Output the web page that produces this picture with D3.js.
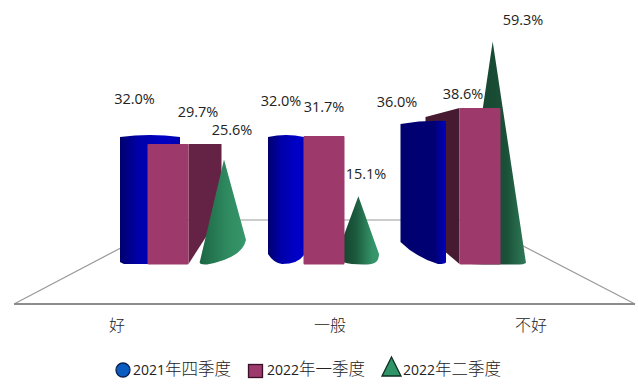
<!DOCTYPE html>
<html><head><meta charset="utf-8">
<script src="https://cdn.jsdelivr.net/npm/d3@7/dist/d3.min.js"></script>
<style>html,body{margin:0;background:#fff}svg{display:block}
text{font-family:"Open Sans","Noto Sans CJK SC",sans-serif;fill:#222}</style>
</head><body><svg id="c" width="638" height="392"></svg>
<script>
const categories = ["好","一般","不好"];
const seriesNames = ["2021年四季度","2022年一季度","2022年二季度"];
const values2021Q4 = [32.0,32.0,36.0];
const values2022Q1 = [29.7,31.7,38.6];
const values2022Q2 = [25.6,15.1,59.3];

const svg = d3.select("#c");
const defs = svg.append("defs");
const idx = d3.scaleOrdinal(categories,[0,1,2]);

// one vertical scale per row of the pseudo-3D scene
const yCyl  = d3.scaleLinear([0,40],[239,109]);
const yBar  = d3.scaleLinear([0,40],[264,102.4]);
const yCone = d3.scaleLinear([0,60],[249,39]);
const floorY = 264;

// scene layout
const xCyl  = d3.scaleOrdinal(categories,[120,268,400.5]);
const wCyl  = [60,36,45.5];
const footY = [262,254,242];
const footX = [124,282,438];
const xBar  = d3.scalePoint(categories,[147.5,459.5]);
const barW  = 41;
const depth = d3.scaleLinear([0,1,2],[33,0,-34]);
const depthDy = [0,0,9];
const xCone = d3.scalePoint(categories,[224,492.7]);
const coneL = [[200,261],[337,254],[460,262]];
const coneR = [[246,240],[379,254],[526,263]];
const coneB = [207,366,518];

function grad(id,stops){
  const g=defs.append("linearGradient").attr("id",id);
  stops.forEach(([o,c])=>g.append("stop").attr("offset",o).attr("stop-color",c));
}
grad("cyl0",[[0,"#00006e"],[.3,"#0000a8"],[.75,"#0000c4"],[1,"#0000b0"]]);
grad("cyl1",[[0,"#00006e"],[.35,"#0000a8"],[.8,"#0000c8"],[1,"#0000c0"]]);
grad("cyl2",[[0,"#000070"],[.75,"#000074"],[1,"#0000c0"]]);
grad("cone0",[[0,"#1c6644"],[.6,"#2f8a60"],[1,"#38976c"]]);
grad("cone1",[[0,"#123a28"],[.45,"#1c5a3e"],[.85,"#349468"],[1,"#38976c"]]);
grad("cone2",[[0,"#143f2b"],[.7,"#1b5038"],[1,"#2f7a58"]]);

// floor
const floor = svg.append("g").attr("fill","none").attr("stroke","#999");
floor.append("path").attr("stroke-width",1.2)
  .attr("d",d3.line()([[14,304],[174,220],[473,220],[635,304]]));
floor.append("path").attr("stroke","#8c8c8c").attr("stroke-width",2)
  .attr("d",d3.line()([[14,304],[635,304]]));

function drawCyl(g,c,v){
  const i=idx(c),x=xCyl(c),w=wCyl[i],t=yCyl(v),p=d3.path();
  p.moveTo(x,t+2);
  p.quadraticCurveTo(x+w/2,t-2,x+w,t+(i==2?-1:2));
  p.lineTo(x+w,i==1?floorY-9:floorY-2);
  p.quadraticCurveTo(x+w-(i==1?6:0),floorY,footX[i],floorY);
  p.quadraticCurveTo(x+(footX[i]-x)*.4,floorY-(i==2?7:1),x,footY[i]);
  p.closePath();
  g.append("path").attr("d",p.toString()).attr("fill",`url(#cyl${i})`);
}
function drawSide(g,c,v){
  const i=idx(c),x=xBar(c),t=yBar(v),d=depth(i);
  const e=d>=0?x+barW:x;
  if(d===0) return;
  const slope=d>0?-1.55:0.85;
  g.append("path").attr("fill",i==0?"#642344":"#461a31")
   .attr("d",d3.line()([[e,t],[e+d,t+depthDy[i]],[e+d,floorY+slope*d],[e,floorY]]));
}
function drawBar(g,c,v){
  const t=yBar(v);
  g.append("rect").attr("x",xBar(c)).attr("y",t).attr("width",barW).attr("rx",1)
   .attr("height",floorY+.5-t).attr("fill","#9e3a6b");
}
function drawCone(g,c,v){
  const i=idx(c),p=d3.path(),ax=xCone(c),ay=yCone(v),L=coneL[i],R=coneR[i];
  p.moveTo(ax,ay);p.lineTo(R[0],R[1]);
  p.quadraticCurveTo(R[0]+(i==1?0:-4),floorY-(i==0?6:-1),coneB[i],floorY+.5);
  p.quadraticCurveTo(L[0]-2,floorY+1,L[0],L[1]);
  p.closePath();
  g.append("path").attr("d",p.toString()).attr("fill",`url(#cone${i})`);
}
const zOrder=[
  ["cyl","side","bar","cone"],
  ["cone","cyl","bar"],
  ["cone","side","cyl","bar"]
];
categories.forEach((c,i)=>{
  const g=svg.append("g");
  zOrder[i].forEach(k=>{
    if(k==="cyl")drawCyl(g,c,values2021Q4[i]);
    if(k==="side")drawSide(g,c,values2022Q1[i]);
    if(k==="bar")drawBar(g,c,values2022Q1[i]);
    if(k==="cone")drawCone(g,c,values2022Q2[i]);
  });
});

// value labels: offset from each mark's top
const fmt=d=>d3.format(".1f")(d)+"%";
const labelOffsets=[
  [[134.5,-31],[198,-27],[232,-24]],
  [[281,-29],[324,-24],[366,-17]],
  [[397,-15],[463,-9],[523,-16]]
];
const tops=[yCyl,yBar,yCone],rows=[values2021Q4,values2022Q1,values2022Q2];
categories.forEach((c,i)=>rows.forEach((r,s)=>{
  const [x,o]=labelOffsets[i][s];
  svg.append("text").attr("x",x).attr("y",tops[s](r[i])+o)
    .attr("text-anchor","middle").attr("font-size",14.5).text(fmt(r[i]));
}));

// category labels
const xLab=d3.scaleOrdinal(categories,[117,330,531]);
svg.append("g").selectAll("text").data(categories).join("text")
  .attr("x",d=>xLab(d)).attr("y",331).attr("text-anchor","middle")
  .attr("font-size",16).attr("font-weight",300).text(d=>d);

// legend
const lg=svg.append("g");
lg.append("circle").attr("cx",123).attr("cy",370).attr("r",7)
  .attr("fill","#0a5cc0").attr("stroke","#0b2050").attr("stroke-width",1.3);
lg.append("rect").attr("x",248.5).attr("y",364.5).attr("width",14).attr("height",13)
  .attr("fill","#9e3a6b").attr("stroke","#3a1028").attr("stroke-width",1.3);
lg.append("path").attr("d",d3.line()([[391.5,357],[401,376],[382,376]])+"Z")
  .attr("fill","#2f9468").attr("stroke","#0d3020").attr("stroke-width",1.3);
const lx=[133,267,403];
seriesNames.forEach((n,i)=>{
  const t=lg.append("text").attr("x",lx[i]).attr("y",375).attr("font-weight",300);
  t.append("tspan").attr("font-size",14).attr("font-weight",400).text(n.slice(0,4));
  t.append("tspan").attr("font-size",16.5).text(n.slice(4));
});
</script></body></html>
